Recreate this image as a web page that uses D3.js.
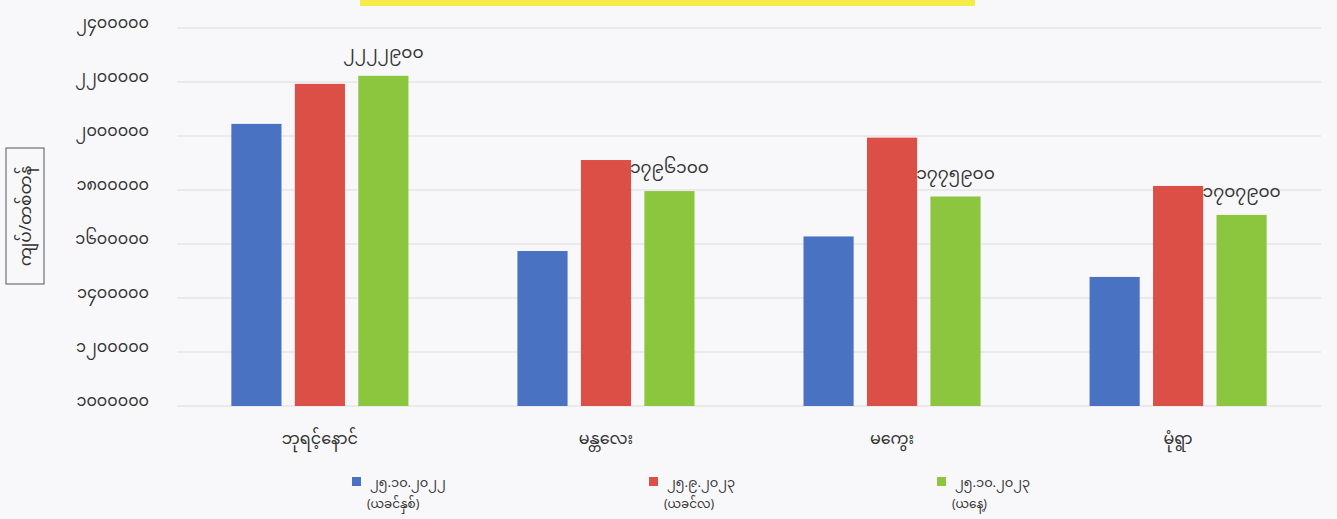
<!DOCTYPE html>
<html>
<head>
<meta charset="utf-8">
<script src="https://cdn.jsdelivr.net/npm/d3@7"></script>
<style>
  body { margin: 0; background: #f8f8fa; }
  text { font-family: "Noto Sans Myanmar", "Padauk", "Myanmar Text", "Noto Sans", sans-serif; fill: #333; }
</style>
</head>
<body>
<svg id="chart" width="1337" height="519"></svg>
<script>
// data
var categories = ["ဘုရင့်နောင်", "မန္တလေး", "မကွေး", "မုံရွာ"];
var seriesNames = ["၂၅.၁၀.၂၀၂၂", "၂၅.၉.၂၀၂၃", "၂၅.၁၀.၂၀၂၃"];
var seriesNotes = ["(ယခင်နှစ်)", "(ယခင်လ)", "(ယနေ့)"];
var lastYear = [2045000, 1574000, 1628000, 1478000];
var lastMonth = [2193000, 1911000, 1994000, 1815000];
var today = [2222900, 1796100, 1775900, 1707900];
var todayLabels = ["၂၂၂၂၉၀၀", "၁၇၉၆၁၀၀", "၁၇၇၅၉၀၀", "၁၇၀၇၉၀၀"];
var yTicks = [1000000, 1200000, 1400000, 1600000, 1800000, 2000000, 2200000, 2400000];
var colors = ["#4a72c2", "#dc4f46", "#8cc63f"];
var yTitle = "ကျပ်/တစ်တန်";

var svg = d3.select("#chart");

// myanmar digits for tick labels
function mmNum(n) {
    var digits = "၀၁၂၃၄၅၆၇၈၉";
    return String(n).replace(/[0-9]/g, function(c){ return digits[+c]; });
}

// plot edges (note: "top" is taken by window.top, so use other names)
var plotLeft = 177, plotRight = 1321, plotTop = 28, plotBottom = 406;

var x0 = d3.scaleBand().domain(categories).range([plotLeft, plotRight])
    .paddingInner(0.381).paddingOuter(0.19);
var x1 = d3.scaleBand().domain([0, 1, 2]).range([0, x0.bandwidth()])
    .paddingInner(0.21).paddingOuter(0);
var y = d3.scaleLinear().domain([1000000, 2400000]).range([plotBottom, plotTop]);

// yellow title box, mostly cut off at the top
svg.append("rect")
    .attr("x", 360).attr("y", -2)
    .attr("width", 615).attr("height", 8)
    .attr("fill", "#f5ec4a");

// gridlines
svg.append("g").selectAll("line")
    .data(yTicks)
    .enter().append("line")
    .attr("x1", plotLeft).attr("x2", plotRight)
    .attr("y1", function(d){ return y(d); })
    .attr("y2", function(d){ return y(d); })
    .attr("stroke", "#dcdcdf")
    .attr("stroke-width", 1);

// y axis labels
var yAxis = d3.axisLeft(y).tickValues(yTicks).tickSize(0).tickFormat(mmNum);
var ya = svg.append("g")
    .attr("transform", "translate(152,-6)")
    .call(yAxis);
ya.select(".domain").remove();
ya.selectAll("text").style("font-size", "16px").attr("fill", "#333")
    .style("font-family", "'Noto Sans Myanmar', 'Padauk', 'Noto Sans', sans-serif");

// rotated y title with its box
var tg = svg.append("g").attr("transform", "translate(25,216) rotate(-90)");
tg.append("rect")
    .attr("x", -68).attr("y", -19)
    .attr("width", 136).attr("height", 38)
    .attr("fill", "none").attr("stroke", "#555").attr("stroke-width", 1);
tg.append("text")
    .attr("text-anchor", "middle")
    .attr("dy", "0.35em")
    .style("font-size", "17px")
    .text(yTitle);

// bars
var rows = categories.map(function(c, i){
    return {cat: c, vals: [lastYear[i], lastMonth[i], today[i]], label: todayLabels[i]};
});

var groups = svg.append("g").selectAll(".grp")
    .data(rows)
    .enter().append("g")
    .attr("class", "grp")
    .attr("transform", function(d){ return "translate(" + x0(d.cat) + ",0)"; });

groups.selectAll("rect")
    .data(function(d){ return d.vals.map(function(v, k){ return {k: k, v: v}; }); })
    .enter().append("rect")
    .attr("x", function(d){ return x1(d.k); })
    .attr("y", function(d){ return y(d.v); })
    .attr("width", x1.bandwidth())
    .attr("height", function(d){ return plotBottom - y(d.v); })
    .attr("fill", function(d){ return colors[d.k]; });

// value labels above the today bars
groups.append("text")
    .attr("x", x1(2) + x1.bandwidth() / 2)
    .attr("y", function(d){ return y(d.vals[2]) - 18; })
    .attr("text-anchor", "middle")
    .style("font-size", "17px")
    .text(function(d){ return d.label; });

// category labels
svg.append("g").selectAll("text")
    .data(categories)
    .enter().append("text")
    .attr("x", function(d){ return x0(d) + x0.bandwidth() / 2; })
    .attr("y", 444)
    .attr("text-anchor", "middle")
    .style("font-size", "16px")
    .text(function(d){ return d; });

// legend: date on the first line, note wrapped underneath in the same text
var legendX = [352, 649, 937];
var lg = svg.append("g").selectAll("g")
    .data(seriesNames)
    .enter().append("g")
    .attr("transform", function(d, i){ return "translate(" + legendX[i] + ",477)"; });
lg.append("rect")
    .attr("width", 9).attr("height", 9)
    .attr("fill", function(d, i){ return colors[i]; });
var lt = lg.append("text")
    .attr("x", 18).attr("y", 10)
    .style("font-size", "13px");
lt.append("tspan")
    .attr("x", 18)
    .text(function(d){ return d; });
lt.append("tspan")
    .attr("x", 15).attr("dy", 21)
    .style("font-size", "12px")
    .text(function(d, i){ return seriesNotes[i]; });
</script>
</body>
</html>
